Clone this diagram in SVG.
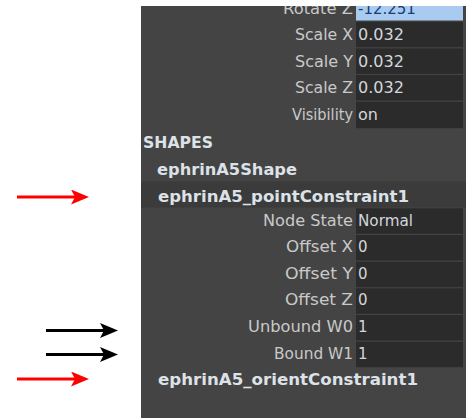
<svg xmlns="http://www.w3.org/2000/svg" width="468" height="418" viewBox="0 0 468 418">
<style>
.lbl{font-family:"DejaVu Sans","Liberation Sans",sans-serif;font-size:15px;fill:#c9c9c9;text-anchor:end}
.val{font-family:"DejaVu Sans","Liberation Sans",sans-serif;font-size:15px;fill:#d2d6dc}
.hdr{font-family:"DejaVu Sans","Liberation Sans",sans-serif;font-size:15px;font-weight:bold;fill:#dde2e8}
.fld{fill:#2b2b2b}
.red{stroke:#ff0000;stroke-width:3;fill:none}
.blk{stroke:#000000;stroke-width:3;fill:none}
</style>
<defs>
<clipPath id="pc"><rect x="141" y="6" width="325" height="412"/></clipPath>
<marker id="ahR" markerUnits="userSpaceOnUse" markerWidth="19" markerHeight="15" refX="4" refY="7.5" orient="auto"><path d="M0,0 L18,7.5 L0,15 L4,7.5 z" fill="#ff0000"/></marker>
<marker id="ahB" markerUnits="userSpaceOnUse" markerWidth="19" markerHeight="15" refX="4" refY="7.5" orient="auto"><path d="M0,0 L18,7.5 L0,15 L4,7.5 z" fill="#000000"/></marker>
</defs>
<rect width="468" height="418" fill="#ffffff"/>
<g id="panel" clip-path="url(#pc)">
<rect x="141" y="6" width="325" height="412" fill="#444444"/>
<g id="rotateZ"><rect x="356" y="-5" width="107" height="25.5" fill="#a9cbef"/><text class="lbl" x="353" y="13.5" textLength="70" lengthAdjust="spacingAndGlyphs">Rotate Z</text><text class="val" x="358" y="13.5" style="fill:#1a3a78">-12.251</text></g>
<g id="scaleX"><rect class="fld" x="356" y="21.7" width="107" height="25.5"/><text class="lbl" x="353" y="40" textLength="58" lengthAdjust="spacingAndGlyphs">Scale X</text><text class="val" x="358" y="40" textLength="46" lengthAdjust="spacingAndGlyphs">0.032</text></g>
<g id="scaleY"><rect class="fld" x="356" y="48.4" width="107" height="25.5"/><text class="lbl" x="353" y="66.7" textLength="58" lengthAdjust="spacingAndGlyphs">Scale Y</text><text class="val" x="358" y="66.7" textLength="46" lengthAdjust="spacingAndGlyphs">0.032</text></g>
<g id="scaleZ"><rect class="fld" x="356" y="75" width="107" height="25.5"/><text class="lbl" x="353" y="93.3" textLength="58" lengthAdjust="spacingAndGlyphs">Scale Z</text><text class="val" x="358" y="93.3" textLength="46" lengthAdjust="spacingAndGlyphs">0.032</text></g>
<g id="visibility"><rect class="fld" x="356" y="101.7" width="107" height="26.5"/><text class="lbl" x="353" y="120" textLength="61" lengthAdjust="spacingAndGlyphs">Visibility</text><text class="val" x="358" y="120" style="font-size:16px">on</text></g>
<g id="shapes"><text class="hdr" x="143" y="148" textLength="70" lengthAdjust="spacingAndGlyphs">SHAPES</text></g>
<g id="ephrinA5Shape"><text class="hdr" x="157" y="175" textLength="140" lengthAdjust="spacingAndGlyphs">ephrinA5Shape</text></g>
<g id="pointConstraint"><rect x="141" y="181.5" width="325" height="26" fill="#3b3b3b"/><text class="hdr" x="158" y="202" textLength="251" lengthAdjust="spacingAndGlyphs">ephrinA5_pointConstraint1</text></g>
<g id="nodeState"><rect class="fld" x="356" y="208.3" width="107" height="25.5"/><text class="lbl" x="353" y="225.5" textLength="90" lengthAdjust="spacingAndGlyphs">Node State</text><text class="val" x="358" y="225.5" textLength="55" lengthAdjust="spacingAndGlyphs">Normal</text></g>
<g id="offsetX"><rect class="fld" x="356" y="235" width="107" height="25.5"/><text class="lbl" x="353" y="252" textLength="67" lengthAdjust="spacingAndGlyphs">Offset X</text><text class="val" x="358" y="252">0</text></g>
<g id="offsetY"><rect class="fld" x="356" y="261.7" width="107" height="25.5"/><text class="lbl" x="353" y="278.6" textLength="68" lengthAdjust="spacingAndGlyphs">Offset Y</text><text class="val" x="358" y="278.6">0</text></g>
<g id="offsetZ"><rect class="fld" x="356" y="288.3" width="107" height="25.5"/><text class="lbl" x="353" y="305.3" textLength="68" lengthAdjust="spacingAndGlyphs">Offset Z</text><text class="val" x="358" y="305.3">0</text></g>
<g id="unboundW0"><rect class="fld" x="356" y="315" width="107" height="25.5"/><text class="lbl" x="353" y="332" textLength="105" lengthAdjust="spacingAndGlyphs">Unbound W0</text><text class="val" x="358" y="332">1</text></g>
<g id="boundW1"><rect class="fld" x="356" y="341.7" width="107" height="25.5"/><text class="lbl" x="353" y="358.6" textLength="79" lengthAdjust="spacingAndGlyphs">Bound W1</text><text class="val" x="358" y="358.6">1</text></g>
<g id="orientConstraint"><text class="hdr" x="158" y="385" textLength="260" lengthAdjust="spacingAndGlyphs">ephrinA5_orientConstraint1</text></g>
</g>
<g id="connectors">
<line class="red" x1="17" y1="197" x2="75" y2="197" marker-end="url(#ahR)"/>
<line class="blk" x1="46" y1="330.5" x2="104" y2="330.5" marker-end="url(#ahB)"/>
<line class="blk" x1="46" y1="354.5" x2="104" y2="354.5" marker-end="url(#ahB)"/>
<line class="red" x1="17" y1="379" x2="75" y2="379" marker-end="url(#ahR)"/>
</g>
</svg>
